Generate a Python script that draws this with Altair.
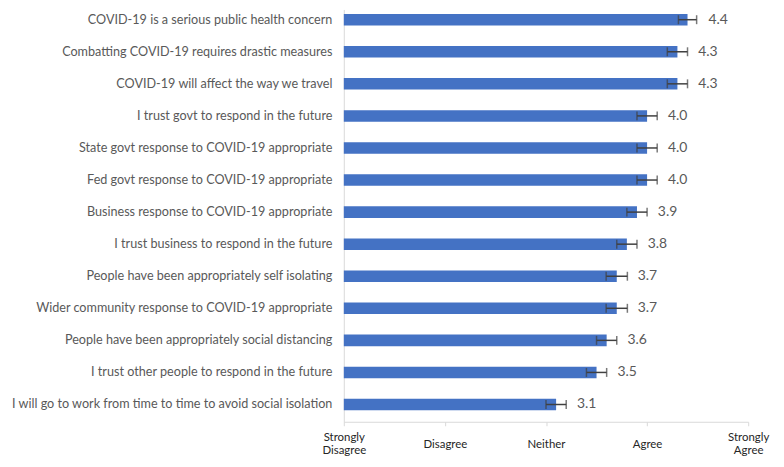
import altair as alt
import pandas as pd

statements = [
    "COVID-19 is a serious public health concern",
    "Combatting COVID-19 requires drastic measures",
    "COVID-19 will affect the way we travel",
    "I trust govt to respond in the future",
    "State govt response to COVID-19 appropriate",
    "Fed govt response to COVID-19 appropriate",
    "Business response to COVID-19 appropriate",
    "I trust business to respond in the future",
    "People have been appropriately self isolating",
    "Wider community response to COVID-19 appropriate",
    "People have been appropriately social distancing",
    "I trust other people to respond in the future",
    "I will go to work from time to time to avoid social isolation",
]
means = [4.4, 4.3, 4.3, 4.0, 4.0, 4.0, 3.9, 3.8, 3.7, 3.7, 3.6, 3.5, 3.1]
errors = [0.09, 0.10, 0.10, 0.10, 0.10, 0.10, 0.10, 0.10, 0.105, 0.105, 0.10, 0.10, 0.10]
scale_values = [1, 2, 3, 4, 5]
scale_labels = [["Strongly", "Disagree"], ["Disagree"], ["Neither"], ["Agree"], ["Strongly", "Agree"]]

df = pd.DataFrame({
    "statement": statements,
    "mean": means,
    "lo": [m - e for m, e in zip(means, errors)],
    "hi": [m + e for m, e in zip(means, errors)],
    "label": [f"{m:.1f}" for m in means],
})

label_expr = " : ".join(
    f"datum.value == {v} ? {l!r}" for v, l in zip(scale_values, scale_labels)
) + " : ''"
single_line_test = " || ".join(
    f"datum.value == {v}" for v, l in zip(scale_values, scale_labels) if len(l) == 1
)

yscale = alt.Scale(domain=statements, paddingInner=0.64, paddingOuter=0.249, align=0.28)
xscale = alt.Scale(domain=[1, 5], nice=False, zero=False)

y_enc = alt.Y(
    "statement:N",
    scale=yscale,
    sort=statements,
    axis=alt.Axis(
        title=None, ticks=False, tickSize=0, labelPadding=12, labelFontSize=12.7,
        labelColor="#595959", domainColor="#d9d9d9", domainWidth=1, labelLimit=400,
        grid=False,
    ),
)

x_enc = alt.X(
    "mean:Q",
    scale=xscale,
    axis=alt.Axis(
        title=None, values=scale_values, labelExpr=label_expr, tickSize=4,
        tickColor="#d9d9d9", domainColor="#d9d9d9",
        labelPadding={"condition": {"test": single_line_test, "value": 13}, "value": 6},
        labelFontSize=11.5, labelColor="#262626", labelBaseline="top",
        labelLineHeight=12.5, grid=False, labelFlush=False,
    ),
)

bars = alt.Chart(df).mark_bar(color="#4472C4").encode(
    y=y_enc,
    x=x_enc,
    x2=alt.datum(1),
)

err = alt.Chart(df).mark_errorbar(
    ticks=True, size=9, thickness=1.5, color="#404040",
).encode(
    y=alt.Y("statement:N", sort=statements),
    x=alt.X("lo:Q"),
    x2="hi:Q",
)

text = alt.Chart(df).mark_text(
    align="left", baseline="middle", dx=21, fontSize=14, color="#595959"
).encode(
    y=alt.Y("statement:N", sort=statements),
    x=alt.X("mean:Q"),
    text="label:N",
)

chart = alt.layer(bars, err, text).properties(
    width=407,
    height=415,
    autosize=alt.AutoSizeParams(type="none"),
    padding={"left": 338, "top": 0, "right": 28, "bottom": 36},
).configure(
    font="Lato",
).configure_view(stroke=None)

chart.save("out.html", embed_options={"renderer": "svg", "actions": False})
